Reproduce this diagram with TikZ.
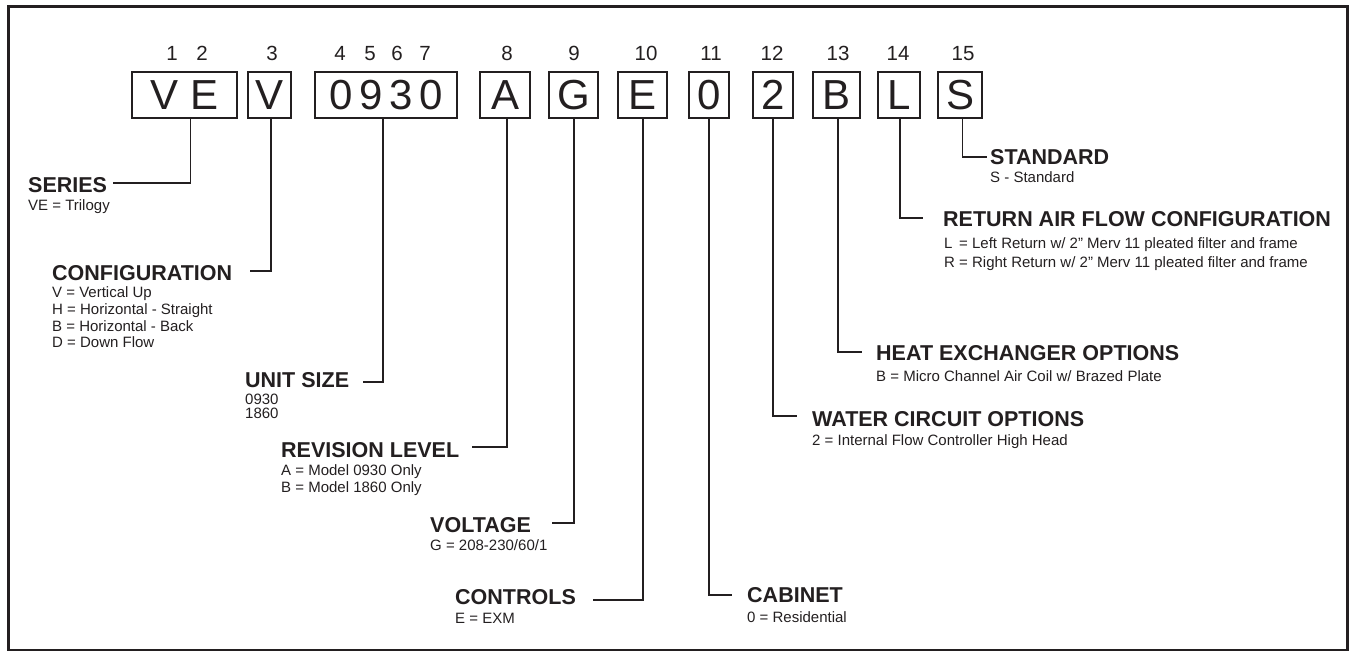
\documentclass[tikz,border=0pt]{standalone}
\usepackage{fontspec}
\setmainfont{Liberation Sans}
\definecolor{ink}{HTML}{231F20}
\tikzset{
  codebox/.style={draw=ink, line width=1.8pt, inner sep=0pt, minimum height=46pt,
    font=\fontsize{42}{42}\selectfont, text=ink},
  num/.style={anchor=base, inner sep=0pt, font=\fontsize{20.5}{20.5}\selectfont, text=ink},
  head/.style={anchor=base west, inner sep=0pt, font=\bfseries\fontsize{21.5}{21.5}\selectfont, text=ink},
  desc/.style={anchor=base west, inner sep=0pt, font=\fontsize{15}{15}\selectfont, text=ink},
  lead/.style={draw=ink, line width=1.8pt},
}
\begin{document}
\begin{tikzpicture}[x=1pt,y=-1pt]
\useasboundingbox (0,0) rectangle (1351,652);
\draw[ink, line width=2.5pt] (8.5,6.5) rectangle (1347.5,650);

% code boxes
\node[codebox, minimum width=105pt] (bVE) at (184.5,95) {V E};
\node[codebox, minimum width=43pt] (bV) at (269.5,95) {V};
\node[codebox, minimum width=142pt] (bSize) at (386,95) {0\hspace{6.8pt}9\hspace{6.8pt}3\hspace{6.8pt}0};
\node[codebox, minimum width=50pt] (bA) at (505,95) {A};
\node[codebox, minimum width=49pt] (bG) at (573.5,95) {G};
\node[codebox, minimum width=49pt] (bE) at (642.5,95) {E};
\node[codebox, minimum width=40pt] (b0) at (709,95) {0};
\node[codebox, minimum width=40pt] (b2) at (773,95) {2};
\node[codebox, minimum width=47pt] (bB) at (836.5,95) {B};
\node[codebox, minimum width=42pt] (bL) at (899,95) {L};
\node[codebox, minimum width=44pt] (bS) at (960,95) {S};

% position numbers
\node[num] (n1) at (172,61) {1};
\node[num] (n2) at (202,61) {2};
\node[num] (n3) at (272,61) {3};
\node[num] (n4) at (340,61) {4};
\node[num] (n5) at (370,61) {5};
\node[num] (n6) at (397,61) {6};
\node[num] (n7) at (425,61) {7};
\node[num] (n8) at (507,61) {8};
\node[num] (n9) at (574,61) {9};
\node[num] (n10) at (646,61) {10};
\node[num] (n11) at (711,61) {11};
\node[num] (n12) at (772,61) {12};
\node[num] (n13) at (838,61) {13};
\node[num] (n14) at (898,61) {14};
\node[num] (n15) at (963,61) {15};

% headings and descriptions
\node[head] (hSer) at (28,193) {SERIES};
\node[desc] (dSer1) at (28,211) {VE = Trilogy};

\node[head] (hCfg) at (52,280) {CONFIGURATION};
\node[desc] (dCfg1) at (52,298) {V = Vertical Up};
\node[desc] (dCfg2) at (52,314.5) {H = Horizontal - Straight};
\node[desc] (dCfg3) at (52,331) {B = Horizontal - Back};
\node[desc] (dCfg4) at (52,347.5) {D = Down Flow};

\node[head] (hUnit) at (245,387) {UNIT SIZE};
\node[desc] (dUnit1) at (245,404) {0930};
\node[desc] (dUnit2) at (245,418) {1860};

\node[head] (hRev) at (281,457) {REVISION LEVEL};
\node[desc] (dRev1) at (281,475) {A = Model 0930 Only};
\node[desc] (dRev2) at (281,492) {B = Model 1860 Only};

\node[head] (hVolt) at (430,532) {VOLTAGE};
\node[desc] (dVolt1) at (430,550) {G = 208-230/60/1};

\node[head] (hCtl) at (455,604) {CONTROLS};
\node[desc] (dCtl1) at (455,623) {E = EXM};

\node[head] (hCab) at (747,602) {CABINET};
\node[desc] (dCab1) at (747,622) {0 = Residential};

\node[head] (hWat) at (812,426) {WATER CIRCUIT OPTIONS};
\node[desc] (dWat1) at (812,445) {2 = Internal Flow Controller High Head};

\node[head] (hHeat) at (876,360) {HEAT EXCHANGER OPTIONS};
\node[desc] (dHeat1) at (876,381) {B = Micro Channel Air Coil w/ Brazed Plate};

\node[head] (hRet) at (943,227) {RETURN AIR FLOW CONFIGURATION};
\node[desc] (dRet1) at (944,248) {\rlap{L}\phantom{R} = Left Return w/ 2” Merv 11 pleated filter and frame};
\node[desc] (dRet2) at (944,267) {R = Right Return w/ 2” Merv 11 pleated filter and frame};

\node[head] (hStd) at (990,165) {STANDARD};
\node[desc] (dStd1) at (990,183) {S - Standard};

% leader ends
\coordinate (eSer) at (113,183);
\coordinate (eCfg) at (250,271);
\coordinate (eUnit) at (363,382);
\coordinate (eRev) at (472,447);
\coordinate (eVolt) at (552,523);
\coordinate (eCtl) at (593,600);
\coordinate (eCab) at (732,595);
\coordinate (eWat) at (797,416);
\coordinate (eHeat) at (862,352);
\coordinate (eRet) at (923,218);
\coordinate (eStd) at (987,157);

% leaders
\draw[lead] ([xshift=6pt]bVE.south) |- (eSer);
\draw[lead] ([xshift=1.2pt]bV.south) |- (eCfg);
\draw[lead] ([xshift=-3pt]bSize.south) |- (eUnit);
\draw[lead] ([xshift=2pt]bA.south) |- (eRev);
\draw[lead] ([xshift=0.5pt]bG.south) |- (eVolt);
\draw[lead] ([xshift=0.5pt]bE.south) |- (eCtl);
\draw[lead] (b0.south) |- (eCab);
\draw[lead] (b2.south) |- (eWat);
\draw[lead] ([xshift=1.5pt]bB.south) |- (eHeat);
\draw[lead] ([xshift=1pt]bL.south) |- (eRet);
\draw[lead] ([xshift=2.5pt]bS.south) |- (eStd);
\end{tikzpicture}
\end{document}
